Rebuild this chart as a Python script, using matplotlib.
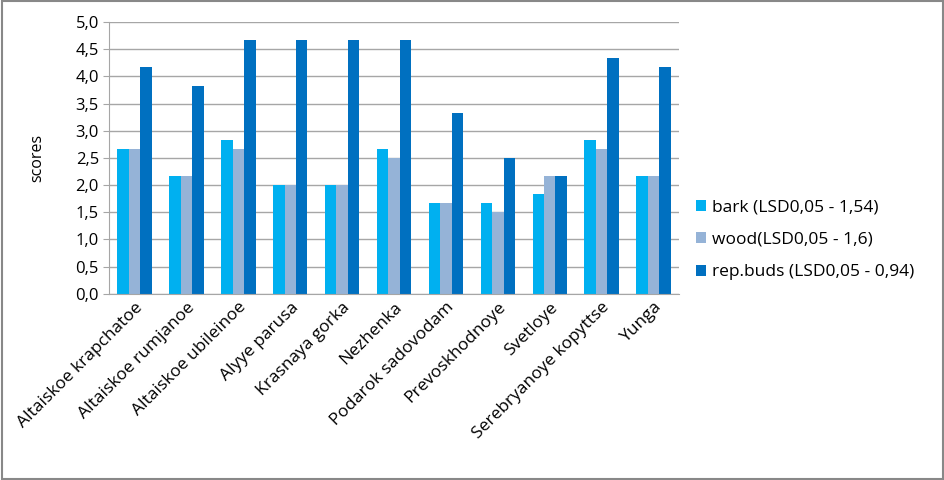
import matplotlib
matplotlib.use("Agg")
import matplotlib.pyplot as plt
import numpy as np
from matplotlib.ticker import FuncFormatter, MultipleLocator
from matplotlib.patches import Rectangle

# --- datos ---
variedades = ["Altaiskoe krapchatoe", "Altaiskoe rumjanoe", "Altaiskoe ubileinoe",
              "Alyye parusa", "Krasnaya gorka", "Nezhenka", "Podarok sadovodam",
              "Prevoskhodnoye", "Svetloye", "Serebryanoye kopyttse", "Yunga"]
bark = [2.67, 2.17, 2.83, 2.0, 2.0, 2.67, 1.67, 1.67, 1.83, 2.83, 2.17]
wood = [2.67, 2.17, 2.67, 2.0, 2.0, 2.5, 1.67, 1.5, 2.17, 2.67, 2.17]
buds = [4.17, 3.83, 4.67, 4.67, 4.67, 4.67, 3.33, 2.5, 2.17, 4.33, 4.17]
series = [
    ("bark (LSD0,05 - 1,54)", bark, "#00B0F0"),
    ("wood(LSD0,05 - 1,6)", wood, "#95B3D7"),
    ("rep.buds (LSD0,05 - 0,94)", buds, "#0070C0"),
]

plt.rcParams["font.family"] = ["Open Sans", "DejaVu Sans"]

fig = plt.figure(figsize=(9.45, 4.8), dpi=100)
ax = fig.add_axes([0.115, 0.388, 0.604, 0.566])

x = np.arange(len(variedades))
w = 0.22
for i, (nom, vals, col) in enumerate(series):
    ax.bar(x + (i - 1) * w, vals, width=w, color=col, label=nom, zorder=2)

ax.set_xlim(-0.5, len(variedades) - 0.5)
ax.set_ylim(0, 5.0)
ax.yaxis.set_major_locator(MultipleLocator(0.5))
ax.yaxis.set_major_formatter(FuncFormatter(lambda v, p: f"{v:.1f}".replace(".", ",")))
ax.grid(axis="y", color="#A6A6A6", lw=1, zorder=0)
ax.set_axisbelow(True)
for s in ["top", "right"]:
    ax.spines[s].set_visible(False)
ax.spines["left"].set_color("#A6A6A6")
ax.spines["bottom"].set_color("#A6A6A6")
ax.tick_params(axis="y", length=4, color="#A6A6A6", labelsize=12, pad=3)
ax.tick_params(axis="x", length=0, labelsize=12.5, pad=4)
ax.set_xticks(x)
ax.set_xticklabels(variedades, rotation=45, ha="right", rotation_mode="anchor")
ax.set_ylabel("scores", fontsize=11.5, labelpad=22)

fig.legend(loc="center left", bbox_to_anchor=(0.72, 0.5), frameon=False,
           fontsize=12.5, handlelength=0.6, handleheight=0.6, labelspacing=0.95,
           handletextpad=0.3)

fig.patches.append(Rectangle((0.002, 0.003), 0.996, 0.994, transform=fig.transFigure,
                             fill=False, edgecolor="#888888", lw=1.5))

fig.savefig("out.png", dpi=100)
